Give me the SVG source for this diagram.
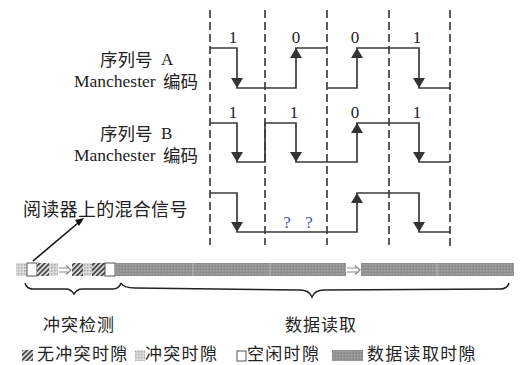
<svg xmlns="http://www.w3.org/2000/svg" width="520" height="365" viewBox="0 0 520 365">
<style>
.dash{stroke:#333;stroke-width:1.6;stroke-dasharray:8 4;fill:none}
.sig{stroke:#3a3a3a;stroke-width:1.7;fill:none}
.ah{fill:#333}
.cn{font-family:"Noto Sans CJK SC","Liberation Serif",serif;fill:#222}
.lat{font-family:"Liberation Serif","Noto Sans CJK SC",serif;fill:#222}
.num{font-family:"Liberation Serif",serif;font-size:17px;fill:#222;text-anchor:middle}
.q{font-family:"Liberation Serif",serif;font-size:17px;fill:#5050b0;text-anchor:middle}
.idle{fill:#fff;stroke:#555;stroke-width:1}
.brace{fill:none;stroke:#222;stroke-width:1.5}
.sep{stroke:#b8b8b8;stroke-width:1}
.darr{fill:none;stroke:#888;stroke-width:1.2}
</style>
<defs>
<pattern id="hatch" width="3.5" height="3.5" patternUnits="userSpaceOnUse" patternTransform="rotate(45)">
<rect width="3.5" height="3.5" fill="#d8d8d8"/>
<rect width="1.6" height="3.5" fill="#3c3c3c"/>
</pattern>
<pattern id="coll" width="3" height="3" patternUnits="userSpaceOnUse">
<rect width="3" height="3" fill="#dcdcdc"/>
<rect width="1.5" height="1.5" fill="#a8a8a8"/>
</pattern>
<pattern id="data" width="3" height="3" patternUnits="userSpaceOnUse">
<rect width="3" height="3" fill="#8e8e8e"/>
<rect width="1.5" height="1.5" fill="#a6a6a6"/>
</pattern>
<polygon id="down" points="-6,-10 6,-10 0,0" class="ah"/>
<polygon id="up" points="-6,10 6,10 0,0" class="ah"/>
</defs>
<rect width="520" height="365" fill="#fff"/>

<g id="grid">
<line class="dash" x1="210" y1="10" x2="210" y2="245"/>
<line class="dash" x1="265" y1="10" x2="265" y2="245"/>
<line class="dash" x1="327" y1="10" x2="327" y2="245"/>
<line class="dash" x1="389" y1="10" x2="389" y2="245"/>
<line class="dash" x1="450" y1="10" x2="450" y2="250"/>
</g>

<g id="labels-left">
<text class="cn" x="100" y="66" font-size="17.5">序列号</text>
<text class="lat" x="161" y="65" font-size="17">A</text>
<text class="lat" x="74" y="87" font-size="17.5">Manchester</text>
<text class="cn" x="163" y="88" font-size="17.5">编码</text>
<text class="cn" x="100" y="140" font-size="17.5">序列号</text>
<text class="lat" x="161" y="139" font-size="17">B</text>
<text class="lat" x="74" y="161" font-size="17.5">Manchester</text>
<text class="cn" x="163" y="162" font-size="17.5">编码</text>
<text class="cn" x="23" y="216" font-size="18" letter-spacing="0.3">阅读器上的混合信号</text>
</g>

<g id="signal-a">
<path class="sig" d="M210,48 H237 V88 H296 V48 H327 M328,88 H357 V48 H419 V88 H450"/>
<use href="#down" x="237" y="88"/>
<use href="#up" x="296" y="48"/>
<use href="#up" x="357" y="48"/>
<use href="#down" x="419" y="88"/>
<text class="num" x="233" y="43">1</text>
<text class="num" x="296" y="43">0</text>
<text class="num" x="355" y="43">0</text>
<text class="num" x="417" y="43">1</text>
</g>

<g id="signal-b">
<path class="sig" d="M210,123 H237 V162 H265 V123 H296 V162 H357 V123 H419 V162 H450"/>
<use href="#down" x="237" y="162"/>
<use href="#down" x="296" y="162"/>
<use href="#up" x="357" y="123"/>
<use href="#down" x="419" y="162"/>
<text class="num" x="233" y="118">1</text>
<text class="num" x="294" y="118">1</text>
<text class="num" x="355" y="118">0</text>
<text class="num" x="417" y="118">1</text>
</g>

<g id="signal-mixed">
<path class="sig" d="M210,193 H237 V232 H357 V193 H419 V232 H450"/>
<use href="#down" x="237" y="232"/>
<use href="#up" x="357" y="193"/>
<use href="#down" x="419" y="232"/>
<text class="q" x="287" y="228">?</text>
<text class="q" x="309" y="228">?</text>
</g>

<g id="connectors">
<line x1="33" y1="261" x2="78" y2="223" stroke="#111" stroke-width="1.6"/>
<polygon points="84,218 75,220 79,226" fill="#111"/>
</g>

<g id="slot-bar">
<rect x="16" y="263" width="11" height="13" fill="url(#coll)"/>
<rect x="27" y="263" width="10" height="13" class="idle"/>
<rect x="37" y="263" width="12" height="13" fill="url(#hatch)"/>
<rect x="49" y="263" width="9" height="13" fill="url(#coll)"/>
<path class="darr" d="M59,268 H68 M59,272 H68 M66,265.5 L71,270 L66,274.5"/>
<rect x="72" y="263" width="11" height="13" fill="url(#hatch)"/>
<rect x="83" y="263" width="9" height="13" fill="url(#coll)"/>
<rect x="92" y="263" width="13" height="13" fill="url(#hatch)"/>
<rect x="105" y="263" width="10" height="13" class="idle"/>
<rect x="115" y="263" width="231" height="13" fill="url(#data)"/>
<path class="darr" d="M347,268 H357 M347,272 H357 M355,265.5 L360,270 L355,274.5"/>
<rect x="361" y="263" width="153" height="13" fill="url(#data)"/>
<line class="sep" x1="193" y1="263" x2="193" y2="276"/>
<line class="sep" x1="270" y1="263" x2="270" y2="276"/>
<line class="sep" x1="437" y1="263" x2="437" y2="276"/>
</g>

<g id="braces">
<path class="brace" d="M25,283 C26,287 28,289 33,289 L66,289 C70,289 72,291 74,294 C76,291 78,289 82,289 L113,289 C118,289 120,286 121,283"/>
<path class="brace" d="M121,283 C123,287 128,288 135,288 L300,290 C306,290 310,292 312,297 C314,292 318,290 324,290 L500,289 C505,289 508,287 509,283"/>
<text class="cn" x="43" y="331" font-size="17" letter-spacing="1">冲突检测</text>
<text class="cn" x="285" y="331" font-size="17" letter-spacing="1">数据读取</text>
</g>

<g id="legend">
<rect x="22" y="350" width="11" height="11" fill="url(#hatch)"/>
<text class="cn" x="37" y="360" font-size="17" letter-spacing="1.3">无冲突时隙</text>
<rect x="135" y="350" width="10" height="11" fill="url(#coll)"/>
<text class="cn" x="145" y="360" font-size="17" letter-spacing="1.3">冲突时隙</text>
<rect x="237" y="351" width="9" height="10" class="idle"/>
<text class="cn" x="247" y="360" font-size="17" letter-spacing="1.3">空闲时隙</text>
<rect x="332" y="350" width="31" height="11" fill="url(#data)"/>
<text class="cn" x="367" y="360" font-size="17" letter-spacing="1.3">数据读取时隙</text>
</g>
</svg>
